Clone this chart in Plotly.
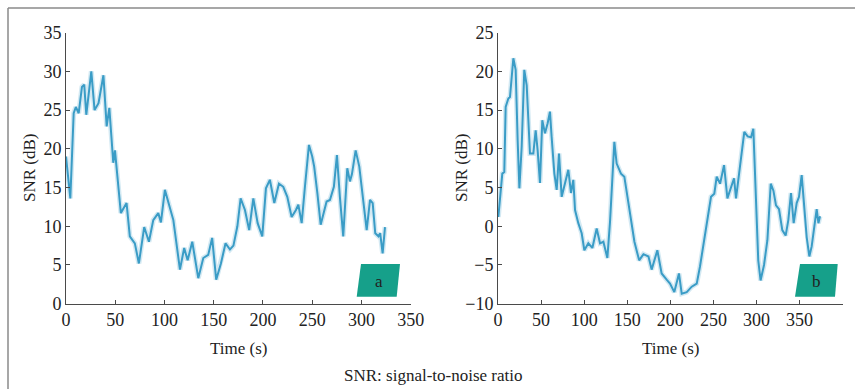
import plotly.graph_objects as go

# ---------------- data ----------------
time_a = [0, 4.4, 7.8, 10, 12.9, 16.2, 18.5, 20.6, 25.7, 29, 33, 38, 41.3, 44, 48,
          49.7, 55.7, 61.5, 64.8, 69.9, 74, 79.4, 84.2, 88.6, 93.7, 96.4, 100.4, 105.5,
          109, 115.7, 120, 123.5, 128.2, 134.3, 139.4, 144.4, 148.4, 152.5, 157.3, 162,
          166.5, 170, 174, 177.3, 181.7, 186, 190.2, 194.6, 199.3, 203, 207, 211.5,
          216.2, 220.6, 224.7, 229.1, 233.5, 235.9, 239.3, 242.6, 246.7, 250, 252,
          255.2, 258.6, 264.6, 268, 272, 275.1, 278.1, 281.5, 285.6, 288.3, 290.3,
          294.1, 297.8, 301.2, 305.3, 308.7, 311.4, 314, 317.3, 319, 321.5, 323.9]
snr_a = [19, 13.6, 24.6, 25.4, 24.6, 28, 28.3, 24.4, 30, 25, 25.9, 29.5, 22.9, 25.3, 18.2,
         19.8, 11.7, 13, 8.7, 7.8, 5.2, 9.9, 8, 10.8, 11.7, 10.5, 14.7, 12.5,
         10.8, 4.4, 7.2, 5.6, 8, 3.3, 5.9, 6.3, 8.5, 3.1, 5.2, 7.8,
         7, 7.5, 10, 13.6, 12.1, 9.5, 13.6, 10.4, 8.7, 14.9, 16, 13,
         15.5, 15.1, 13.8, 11.2, 12.1, 12.8, 10.4, 15.1, 20.5, 19, 17.7,
         14.3, 10.2, 13.2, 13.4, 15.1, 19.2, 13.8, 8.7, 17.5, 15.8, 16.7,
         19.8, 17.7, 13.8, 9.5, 13.4, 13, 9.1, 8.7, 9.1, 6.5, 9.9]

time_b = [0.4, 2.3, 5, 7.3, 8.9, 12, 13.9, 17.8, 20.5, 22.8, 24.8, 27.5, 30.5, 33.3, 35.2,
          37.1, 41, 43.7, 46, 48.7, 51.4, 54.5, 57.6, 60.3, 62.2, 65.4, 68.1, 70.8, 73.9,
          77.8, 81.6, 84.7, 87.4, 89.4, 93.2, 97.1, 100.2, 104.8, 109.5, 114.5, 118.4,
          122.3, 126.9, 130, 135, 137.7, 142.7, 146.6, 150.5, 153.2, 158.3, 163.8, 168.8,
          174.6, 178.3, 184.9, 189.9, 195.7, 199.6, 204.6, 210, 213.2, 219, 224.8, 230.6,
          234.4, 238.3, 242.2, 247.2, 251, 253.8, 257.7, 262.3, 266.2, 270, 273.9, 276.2,
          280.8, 285.8, 289.7, 293.6, 296.3, 299, 302, 304.7, 308.7, 312.6, 316.5, 319.6,
          322.6, 326.1, 329.9, 333.8, 336.9, 340, 343.1, 346.6, 349.3, 352.4, 355.5, 358.2,
          361.3, 364, 367.1, 369.8, 371.8, 373.7]
snr_b = [1.2, 3.4, 6.8, 7, 15.4, 16.5, 16.7, 21.7, 20.2, 11.1, 4.9, 10.3, 20.2, 18.2, 14.2,
         9.4, 9.4, 12.4, 9.8, 5.6, 13.7, 12, 13.3, 14.8, 11.6, 6.8, 4.7, 9.4, 3.8,
         5.6, 7.3, 4.3, 6, 2.1, 0.4, -0.9, -3.1, -2.2, -2.8, -0.3, -2.2,
         -2, -4.1, 0.6, 10.9, 8.1, 6.8, 6.4, 3.4, 1.7, -2, -4.4, -3.6,
         -3.9, -5.6, -3.1, -6.1, -6.9, -7.4, -8.5, -6.1, -8.7, -8.5, -7.8, -7.4,
         -5.2, -2.6, 0, 3.8, 4.2, 6.4, 5.5, 7.9, 3.6, 4.9, 6.2, 3.6,
         8.1, 12.2, 11.6, 11.5, 12.6, 4.3, -4.4, -7, -5, -1.8, 5.5, 4.6,
         2.7, 2.2, -0.5, -1.2, 0.8, 4.3, 0.4, 3, 3.8, 6.6, 2.6, -1.4,
         -3.9, -2.6, 0, 2.2, 0.4, 1.3]

xticks_a = [0, 50, 100, 150, 200, 250, 300, 350]
yticks_a = [0, 5, 10, 15, 20, 25, 30, 35]
xticks_b = [0, 50, 100, 150, 200, 250, 300, 350, 400]
yticks_b = [-10, -5, 0, 5, 10, 15, 20, 25]

panel_labels = ["a", "b"]
x_title = "Time (s)"
y_title = "SNR (dB)"
caption = "SNR: signal-to-noise ratio"

# ---------------- layout helpers ----------------
W, H = 855, 389
FONT = "Liberation Serif, Times New Roman, serif"
LINE = "#3a9cc6"
TEAL = "#16a08a"


def px(x):
    return x / W


def py(y):
    return 1 - y / H


fig = go.Figure()

for (t, s, xa, ya) in [(time_a, snr_a, "x", "y"), (time_b, snr_b, "x2", "y2")]:
    fig.add_trace(go.Scatter(x=t, y=s, xaxis=xa, yaxis=ya, mode="lines",
                             line=dict(color=LINE, width=5), opacity=0.22,
                             hoverinfo="skip", showlegend=False))
    fig.add_trace(go.Scatter(x=t, y=s, xaxis=xa, yaxis=ya, mode="lines",
                             line=dict(color=LINE, width=2), showlegend=False))

ydom = [py(303.7), py(32.7)]
axis_common = dict(showgrid=False, zeroline=False, showline=True, linecolor="#4a4a4a",
                   linewidth=1, ticks="inside", ticklen=4, tickcolor="#4a4a4a",
                   automargin=False,
                   tickfont=dict(family=FONT, size=18, color="#222"), fixedrange=True)

fig.update_layout(
    width=W, height=H, margin=dict(l=0, r=0, t=0, b=0),
    paper_bgcolor="white", plot_bgcolor="white",
    xaxis=dict(domain=[px(66), px(410.7)], range=[0, 350], tickvals=xticks_a,
               anchor="y", **axis_common),
    yaxis=dict(domain=ydom, range=[0, 35], tickvals=yticks_a, anchor="x", **axis_common),
    xaxis2=dict(domain=[px(498), px(842.7)], range=[0, 400], tickvals=xticks_b,
                anchor="y2", **axis_common),
    yaxis2=dict(domain=ydom, range=[-10, 25], tickvals=yticks_b, anchor="x2", **axis_common),
)

anns = []
# axis titles
for cx in (238, 670):
    anns.append(dict(x=px(cx), y=py(348), xref="paper", yref="paper", text=x_title,
                     showarrow=False, font=dict(family=FONT, size=17, color="#222"),
                     xanchor="center", yanchor="middle"))
for cx in (29, 461):
    anns.append(dict(x=px(cx), y=py(168), xref="paper", yref="paper", text=y_title,
                     showarrow=False, textangle=-90,
                     font=dict(family=FONT, size=17, color="#222"),
                     xanchor="center", yanchor="middle"))
# caption
anns.append(dict(x=px(433), y=py(375), xref="paper", yref="paper", text=caption,
                 showarrow=False, font=dict(family=FONT, size=17, color="#222"),
                 xanchor="center", yanchor="middle"))

# panel badges (parallelograms)
shapes = []
badges = [((361, 400, 396.7, 356.7), (378.5, 281)), ((800, 837.7, 835, 795), (816.5, 281))]
for lab, ((tl, tr, br, bl), (lx, ly)) in zip(panel_labels, badges):
    path = (f"M {px(tl)} {py(264)} L {px(tr)} {py(264)} L {px(br)} {py(296.7)} "
            f"L {px(bl)} {py(296.7)} Z")
    shapes.append(dict(type="path", xref="paper", yref="paper", path=path,
                       fillcolor=TEAL, line=dict(width=0)))
    anns.append(dict(x=px(lx), y=py(ly), xref="paper", yref="paper", text=lab,
                     showarrow=False, font=dict(family=FONT, size=17, color="#222"),
                     xanchor="center", yanchor="middle"))

# frame lines
shapes.append(dict(type="line", xref="paper", yref="paper", x0=px(8), x1=1,
                   y0=py(8), y1=py(8), line=dict(color="#8a8a8a", width=1.5)))
shapes.append(dict(type="line", xref="paper", yref="paper", x0=px(8), x1=px(8),
                   y0=py(8), y1=0, line=dict(color="#8a8a8a", width=1.5)))

fig.update_layout(annotations=anns, shapes=shapes)
fig.write_html("out.html")
